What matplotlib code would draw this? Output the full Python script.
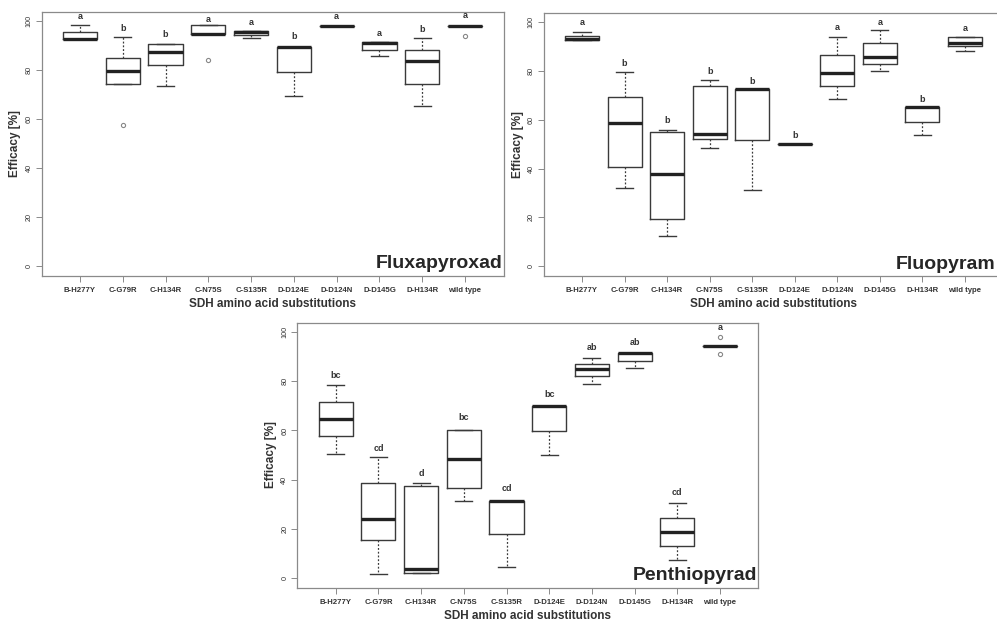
import matplotlib
matplotlib.use('Agg')
import matplotlib.pyplot as plt

plt.rcParams['font.family'] = ['Liberation Sans', 'DejaVu Sans']

W, H = 997, 620

mutations = ['B-H277Y', 'C-G79R', 'C-H134R', 'C-N75S', 'C-S135R',
             'D-D124E', 'D-D124N', 'D-D145G', 'D-H134R', 'wild type']

# five-number summaries: whislo, q1, med, q3, whishi
flux_stats = [
    (92.6, 92.6, 92.6, 95.5, 98.6),
    (74.5, 74.5, 79.8, 84.9, 93.6),
    (73.4, 82.3, 87.5, 90.9, 90.9),
    (94.8, 94.8, 95.0, 98.4, 98.4),
    (93.2, 94.4, 95.5, 95.9, 95.9),
    (69.3, 79.4, 89.6, 89.6, 89.6),
    (98.0, 98.0, 98.0, 98.0, 98.0),
    (85.6, 88.4, 91.1, 91.4, 91.4),
    (65.3, 74.5, 83.8, 88.3, 93.1),
    (98.1, 98.1, 98.1, 98.1, 98.1),
]
flux_out = [[], [57.5], [], [84.1], [], [], [], [], [], [94.1]]
flux_letters = ['a', 'b', 'b', 'a', 'a', 'b', 'a', 'a', 'b', 'a']
flux_letter_y = [102.0, 97.0, 94.7, 100.7, 99.5, 93.6, 102.0, 95.0, 96.7, 102.4]

fluo_stats = [
    (92.7, 92.7, 93.3, 94.4, 95.9),
    (32.1, 40.5, 58.9, 69.3, 79.6),
    (12.2, 19.5, 37.9, 55.2, 56.0),
    (48.4, 52.2, 54.4, 73.8, 76.2),
    (31.4, 51.8, 72.5, 72.5, 72.5),
    (50.0, 50.0, 50.0, 50.0, 50.0),
    (68.5, 73.8, 79.2, 86.4, 93.8),
    (79.9, 82.7, 85.8, 91.4, 97.0),
    (53.6, 59.0, 65.1, 65.1, 65.1),
    (88.1, 90.1, 91.5, 94.1, 94.1),
]
fluo_out = [[] for _ in range(10)]
fluo_letters = ['a', 'b', 'b', 'b', 'b', 'b', 'a', 'a', 'b', 'a']
fluo_letter_y = [100.0, 83.0, 59.6, 80.0, 75.9, 53.4, 97.8, 100.0, 68.2, 97.3]

pent_stats = [
    (50.5, 57.6, 64.8, 71.7, 78.7),
    (1.6, 15.4, 23.8, 38.7, 49.0),
    (1.9, 1.9, 3.7, 37.5, 38.6),
    (31.1, 36.4, 48.2, 60.2, 60.2),
    (4.2, 17.8, 31.4, 31.4, 31.4),
    (50.0, 59.9, 69.8, 69.8, 69.8),
    (79.1, 82.1, 85.2, 87.2, 89.4),
    (85.6, 88.5, 91.4, 91.4, 91.4),
    (7.1, 12.9, 18.8, 24.3, 30.3),
    (94.3, 94.3, 94.3, 94.3, 94.3),
]
pent_out = [[], [], [], [], [], [], [], [], [], [98.0, 91.3]]
pent_letters = ['bc', 'cd', 'd', 'bc', 'cd', 'bc', 'ab', 'ab', 'cd', 'a']
pent_letter_y = [82.6, 52.6, 42.3, 65.1, 36.3, 74.7, 93.8, 95.8, 34.6, 102.0]

line_c = '#3a3a3a'
frame_c = '#8a8a8a'
text_c = '#333333'


def px_axes(fig, left, top, right, bottom):
    return fig.add_axes([left / W, 1 - bottom / H, (right - left) / W, (bottom - top) / H])


def panel(ax, stats, outliers, letters, letter_y, name, name_x=10.88):
    bstats = []
    for (lo, q1, med, q3, hi), fl in zip(stats, outliers):
        bstats.append(dict(whislo=lo, q1=q1, med=med, q3=q3, whishi=hi, fliers=fl))
    ax.bxp(bstats, positions=range(1, 11), widths=0.8, capwidths=0.4,
           boxprops=dict(color=line_c, linewidth=1.0),
           medianprops=dict(color='#222222', linewidth=2.4),
           whiskerprops=dict(color=line_c, linewidth=0.9, linestyle=(0, (1.5, 1.5))),
           capprops=dict(color=line_c, linewidth=1.0),
           flierprops=dict(marker='o', markersize=3, markerfacecolor='none',
                           markeredgecolor='#888888', markeredgewidth=0.8))
    for i, (lab, y) in enumerate(zip(letters, letter_y)):
        ax.text(i + 1, y, lab, ha='center', va='center', fontsize=6.5,
                fontweight='bold', color=text_c)
    ax.text(name_x, -1.0, name, ha='right', va='baseline', fontsize=14,
            fontweight='bold', color='#262626', clip_on=True)
    ax.set_xlim(0.1, 10.9)
    ax.set_ylim(-4, 104)
    ax.set_xticks(range(1, 11))
    ax.set_xticklabels(mutations, fontsize=5.6, fontweight='bold', color=text_c)
    ax.set_yticks([0, 20, 40, 60, 80, 100])
    ax.set_yticklabels(['0', '20', '40', '60', '80', '100'], rotation=90,
                       va='center', fontsize=5.2, color=text_c)
    ax.tick_params(axis='both', length=4, width=0.7, color=frame_c)
    ax.tick_params(axis='x', pad=4)
    ax.tick_params(axis='y', pad=2.5)
    for s in ax.spines.values():
        s.set_color(frame_c)
        s.set_linewidth(0.9)
    ax.set_ylabel('Efficacy [%]', fontsize=8.5, fontweight='bold', color=text_c, labelpad=3)
    ax.set_xlabel('SDH amino acid substitutions', fontsize=8.5, fontweight='bold',
                  color=text_c, labelpad=3)


fig = plt.figure(figsize=(W / 100, H / 100), dpi=100)
ax1 = px_axes(fig, 41.5, 11.5, 503.5, 275.5)
ax2 = px_axes(fig, 543.7, 12.5, 1003.3, 276.0)
ax3 = px_axes(fig, 297.3, 322.5, 758.4, 587.5)

panel(ax1, flux_stats, flux_out, flux_letters, flux_letter_y, 'Fluxapyroxad')
panel(ax2, fluo_stats, fluo_out, fluo_letters, fluo_letter_y, 'Fluopyram', name_x=10.72)
panel(ax3, pent_stats, pent_out, pent_letters, pent_letter_y, 'Penthiopyrad')

fig.savefig('out.png', dpi=100)
